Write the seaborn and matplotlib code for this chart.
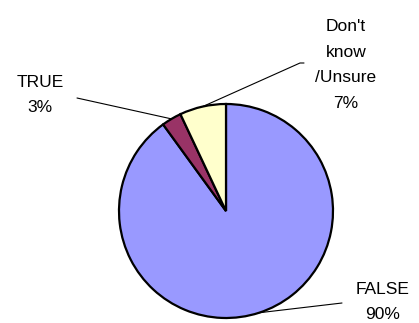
import numpy as np
import matplotlib
matplotlib.use("Agg")
import matplotlib.pyplot as plt
import seaborn as sns

# Data
categories = ["FALSE", "TRUE", "Don't\nknow\n/Unsure"]
values = [90, 3, 7]
pct_labels = ["90%", "3%", "7%"]
colors = ["#9999FF", "#993366", "#FFFFCC"]

sns.set_theme(style="white")
plt.rcParams['font.family'] = ['Liberation Sans', 'DejaVu Sans']

W, H = 419, 323
fig = plt.figure(figsize=(W / 100, H / 100), dpi=100)
ax = fig.add_axes([0, 0, 1, 1])

cx, cy, r = 226, H - 211, 107
wedges, _ = ax.pie(values, colors=colors, startangle=90, counterclock=False,
                   center=(cx, cy), radius=r, frame=True,
                   wedgeprops=dict(edgecolor='black', linewidth=1.6))
ax.set_xlim(0, W)
ax.set_ylim(0, H)
ax.set_aspect('equal')
ax.axis('off')

# label layout (text center, leader end)
text_pos = [(383, H - 302), (40, H - 95), (346, H - 65)]
leader_end = [(342, H - 303), (77, H - 98), (300, H - 63)]
for w, cat, pct, tp, le in zip(wedges, categories, pct_labels, text_pos, leader_end):
    a = np.deg2rad((w.theta1 + w.theta2) / 2)
    px, py = cx + r * np.cos(a), cy + r * np.sin(a)
    if cat.startswith("Don"):
        ax.plot([px, le[0], le[0] + 4], [py, le[1], le[1]], color='black', lw=0.8)
    else:
        ax.plot([px, le[0]], [py, le[1]], color='black', lw=0.8)
    ax.text(tp[0], tp[1], f"{cat}\n{pct}", ha='center', va='center',
            fontsize=12.5, linespacing=1.9, color='black')

fig.savefig("out.png", dpi=100, facecolor='white')
